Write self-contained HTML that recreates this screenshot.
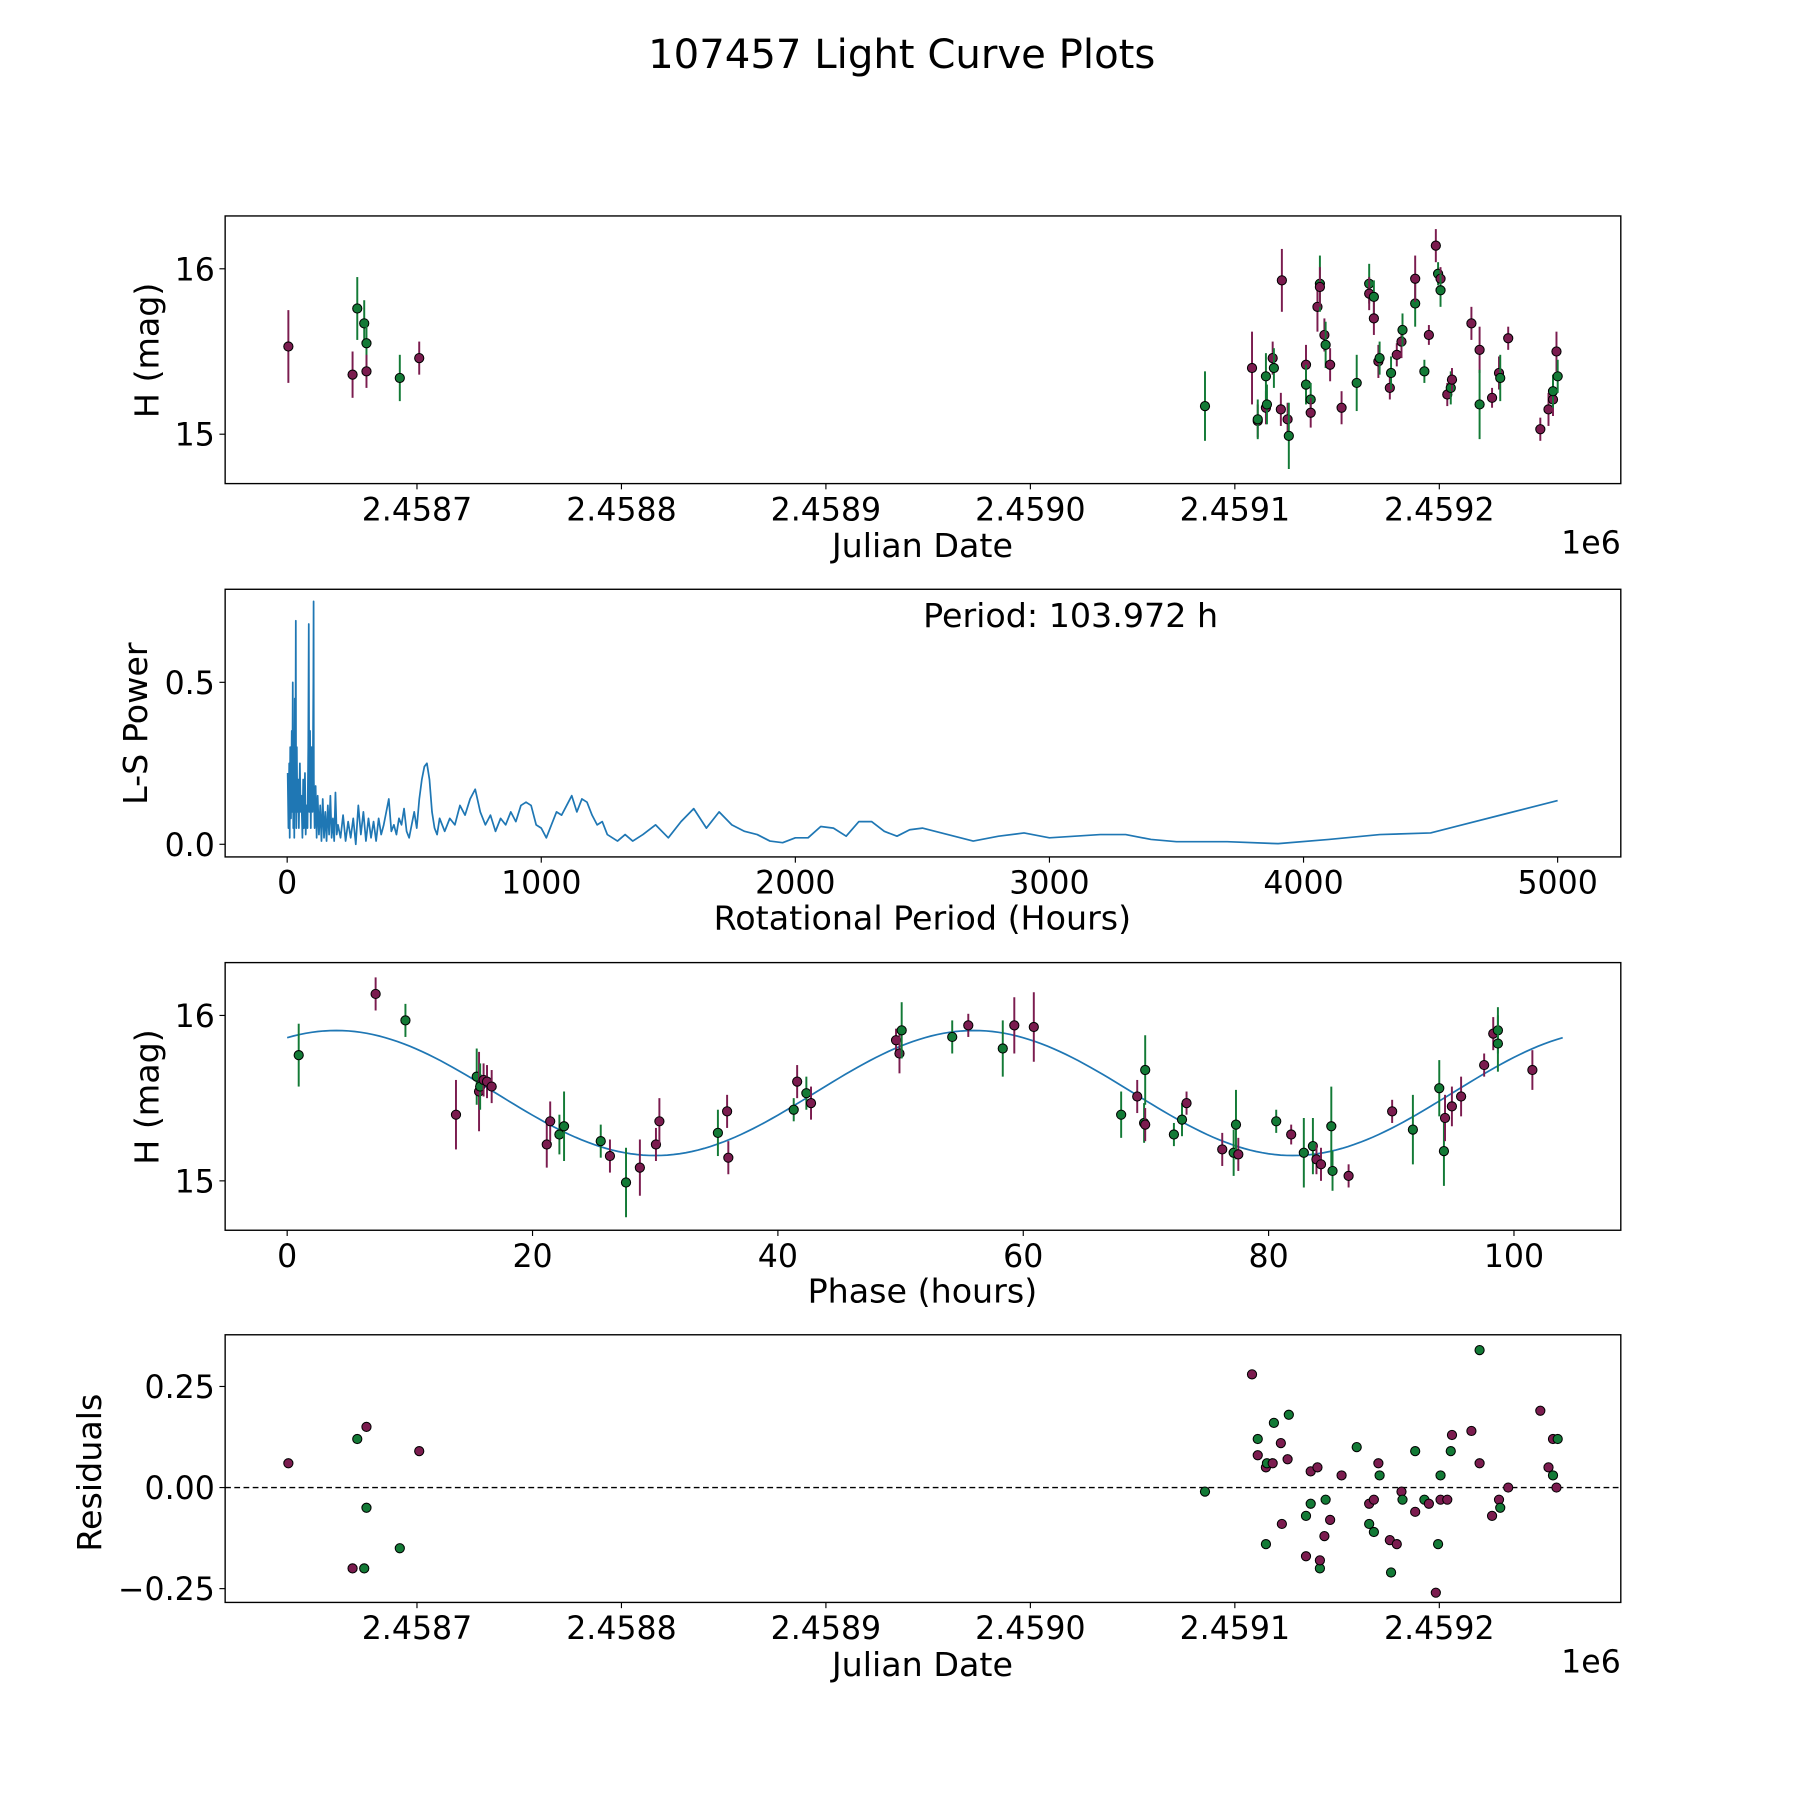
<!DOCTYPE html>
<html><head><meta charset="utf-8"><style>html,body{margin:0;padding:0;background:#fff}svg{display:block}text{font-family:"DejaVu Sans","Liberation Sans",sans-serif;fill:#000}</style></head>
<body>
<svg id="fig" width="1800" height="1800" viewBox="0 0 1567 1567" xmlns="http://www.w3.org/2000/svg">
<text x="785" y="59" font-size="35" text-anchor="middle">107457 Light Curve Plots</text>
</svg>
<script>
// ---- observation data (JD offsets from 2458700) ----
const JD_BASE = 2458700;
const obsDay = [-62.9,-31.5,-29.2,-25.8,-24.7,-24.7,-8.4,1.1,385.4,408.4,411.2,411.2,415.2,415.2,415.7,418.5,419.1,422.5,423.0,425.8,426.4,434.8,434.8,437.1,437.1,440.4,441.6,441.6,443.8,444.4,446.6,452.2,459.6,465.7,465.7,468.0,468.0,470.2,470.8,475.8,476.4,479.2,481.5,482.0,488.2,488.2,492.7,494.9,498.3,499.4,500.6,500.6,503.9,505.6,506.2,515.7,519.7,519.7,525.8,529.2,529.8,533.7,549.4,553.4,555.6,555.6,557.3,557.9];
const obsMag = [15.53,15.36,15.76,15.67,15.55,15.38,15.34,15.46,15.17,15.40,15.08,15.09,15.16,15.35,15.18,15.46,15.40,15.15,15.93,15.09,14.99,15.42,15.30,15.21,15.13,15.77,15.91,15.89,15.60,15.54,15.42,15.16,15.31,15.91,15.85,15.83,15.70,15.44,15.46,15.28,15.37,15.48,15.56,15.63,15.79,15.94,15.38,15.60,16.14,15.97,15.94,15.87,15.24,15.28,15.33,15.67,15.51,15.18,15.22,15.37,15.34,15.58,15.03,15.15,15.21,15.26,15.50,15.35];
const obsErr = [0.22,0.14,0.19,0.14,0.14,0.10,0.14,0.10,0.21,0.22,0.10,0.12,0.10,0.14,0.12,0.10,0.12,0.10,0.19,0.10,0.20,0.12,0.12,0.10,0.09,0.15,0.17,0.12,0.10,0.14,0.10,0.10,0.17,0.12,0.10,0.10,0.10,0.10,0.10,0.07,0.10,0.07,0.10,0.10,0.14,0.14,0.07,0.06,0.10,0.07,0.07,0.10,0.07,0.10,0.07,0.10,0.14,0.21,0.06,0.10,0.14,0.07,0.07,0.10,0.10,0.10,0.12,0.10];
const obsBand = ['m','m','g','g','g','m','g','m','g','m','m','g','m','g','g','m','g','m','m','m','g','m','g','g','m','m','g','m','m','g','m','m','g','g','m','g','m','m','g','m','g','m','m','g','g','m','g','m','m','g','m','g','m','g','m','m','m','g','m','m','g','m','m','m','m','g','m','g'];
const obsRes = [0.06,-0.20,0.12,-0.20,-0.05,0.15,-0.15,0.09,-0.01,0.28,0.08,0.12,0.05,-0.14,0.06,0.06,0.16,0.11,-0.09,0.07,0.18,-0.17,-0.07,-0.04,0.04,0.05,-0.20,-0.18,-0.12,-0.03,-0.08,0.03,0.10,-0.09,-0.04,-0.11,-0.03,0.06,0.03,-0.13,-0.21,-0.14,-0.01,-0.03,0.09,-0.06,-0.03,-0.04,-0.26,-0.14,-0.03,0.03,-0.03,0.09,0.13,0.14,0.06,0.34,-0.07,-0.03,-0.05,0.00,0.19,0.05,0.12,0.03,0.00,0.12];
// ---- periodogram ----
const lsPeriod = [2,5,8,10,12,15,18,20,22,24,26,28,30,32,34,35,36,38,40,43,46,50,53,56,60,63,66,70,73,76,80,83,85,87,90,93,96,100,103,104,105,108,112,116,120,125,130,135,140,145,150,155,160,165,170,175,180,185,190,195,200,210,220,230,240,250,260,270,280,290,300,310,320,330,340,350,360,370,380,390,400,410,420,430,440,450,460,470,480,490,500,510,520,530,540,550,560,570,580,590,600,620,640,660,680,700,720,740,760,780,800,820,840,860,880,900,920,940,960,980,1000,1020,1040,1060,1080,1100,1120,1140,1160,1180,1200,1220,1240,1260,1280,1300,1330,1360,1400,1450,1500,1550,1600,1650,1700,1750,1800,1850,1900,1950,2000,2050,2100,2150,2200,2250,2300,2350,2400,2450,2500,2600,2700,2800,2900,3000,3100,3200,3300,3400,3500,3700,3900,4100,4300,4500,4600,4800,5000];
const lsPower = [0.22,0.05,0.25,0.02,0.3,0.08,0.35,0.1,0.5,0.05,0.3,0.02,0.45,0.1,0.69,0.2,0.05,0.3,0.1,0.2,0.05,0.25,0.1,0.15,0.02,0.2,0.05,0.22,0.03,0.12,0.05,0.3,0.68,0.1,0.35,0.05,0.3,0.1,0.5,0.75,0.2,0.05,0.18,0.02,0.15,0.03,0.12,0.01,0.14,0.02,0.1,0.01,0.12,0.03,0.15,0.02,0.08,0.01,0.16,0.03,0.06,0.02,0.09,0.01,0.07,0.02,0.08,0.0,0.12,0.03,0.1,0.01,0.08,0.02,0.07,0.01,0.08,0.03,0.06,0.1,0.14,0.04,0.06,0.03,0.08,0.06,0.11,0.04,0.02,0.06,0.1,0.05,0.14,0.2,0.24,0.25,0.2,0.1,0.05,0.03,0.08,0.04,0.08,0.06,0.12,0.09,0.14,0.17,0.1,0.06,0.09,0.04,0.08,0.06,0.1,0.07,0.12,0.13,0.12,0.06,0.05,0.02,0.06,0.1,0.09,0.12,0.15,0.1,0.14,0.13,0.09,0.06,0.07,0.03,0.02,0.01,0.03,0.01,0.03,0.06,0.02,0.07,0.11,0.05,0.1,0.06,0.04,0.03,0.01,0.005,0.02,0.02,0.055,0.05,0.025,0.07,0.07,0.04,0.025,0.045,0.05,0.03,0.01,0.025,0.035,0.02,0.025,0.03,0.03,0.015,0.008,0.008,0.002,0.015,0.03,0.035,0.055,0.095,0.135];
const periodLabel = 'Period: 103.972 h';
// ---- phased data ----
const phHours = [0.94,7.21,9.64,13.76,15.45,15.64,15.73,16.01,16.29,16.67,21.16,21.44,22.19,22.57,25.56,26.31,27.62,28.75,30.06,30.34,35.11,35.86,35.96,41.29,41.57,42.32,42.70,49.63,49.91,50.09,54.21,55.52,58.33,59.27,60.86,67.98,69.29,69.85,69.94,69.94,72.28,72.94,73.31,76.22,77.15,77.34,77.53,80.62,81.84,82.87,83.61,83.90,84.27,85.11,85.21,86.52,90.07,91.76,93.91,94.29,94.38,94.94,95.69,97.57,98.31,98.69,98.69,101.5];
const phMag = [15.76,16.13,15.97,15.40,15.63,15.54,15.57,15.61,15.60,15.57,15.22,15.36,15.28,15.33,15.24,15.15,14.99,15.08,15.22,15.36,15.29,15.42,15.14,15.43,15.60,15.53,15.47,15.85,15.77,15.91,15.87,15.94,15.80,15.94,15.93,15.40,15.51,15.35,15.34,15.67,15.28,15.37,15.47,15.19,15.17,15.34,15.16,15.36,15.28,15.17,15.21,15.13,15.10,15.33,15.06,15.03,15.42,15.31,15.56,15.18,15.38,15.45,15.51,15.70,15.89,15.91,15.83,15.67];
const phErr = [0.19,0.10,0.10,0.21,0.17,0.24,0.14,0.10,0.10,0.10,0.14,0.12,0.12,0.21,0.10,0.10,0.21,0.17,0.10,0.14,0.14,0.10,0.10,0.07,0.10,0.10,0.10,0.07,0.12,0.17,0.10,0.07,0.17,0.17,0.21,0.14,0.10,0.12,0.10,0.21,0.07,0.10,0.07,0.10,0.14,0.21,0.10,0.07,0.06,0.21,0.17,0.09,0.10,0.24,0.12,0.07,0.07,0.21,0.17,0.21,0.14,0.12,0.12,0.07,0.10,0.14,0.17,0.12];
const phBand = ['g','m','g','m','g','m','g','m','m','m','m','m','g','g','g','m','g','m','m','m','g','m','m','g','m','g','m','m','m','g','g','m','g','m','m','g','m','g','m','g','g','g','m','m','g','g','m','g','m','g','g','m','m','g','g','m','m','g','g','g','m','m','m','m','m','g','g','m'];
const fitParams = [15.531, 0.378, 51.986, 4.0]; // mean, amplitude, period(h), peak phase
const PERIOD_H = 103.972;

const COL = {m:'#7b1c4f', g:'#137a36'};
const NS = 'http://www.w3.org/2000/svg';
const svg = document.getElementById('fig');
function mk(tag, attrs, parent){const e=document.createElementNS(NS,tag);for(const k in attrs)e.setAttribute(k,attrs[k]);(parent||svg).appendChild(e);return e;}
function lin(d0,d1,r0,r1){return v=>r0+(v-d0)*(r1-r0)/(d1-d0);}
const TFS = 27.5, LFS = 29;

function panel(name){
  const g = mk('g',{});
  
  
  return g;
}
function frame(g,x0,x1,y0,y1){
  const r = mk('rect',{x:x0,y:y0,width:x1-x0,height:y1-y0,fill:'none',stroke:'#000','stroke-width':1.2},g);
  
  
}
function xticks(g,vals,labels,sx,y1){
  vals.forEach((v,i)=>{const x=sx(v);
    mk('line',{x1:x,x2:x,y1:y1,y2:y1+5,stroke:'#000','stroke-width':1},g);
    const t=mk('text',{x:x,y:y1+32,'font-size':TFS,'text-anchor':'middle'},g);t.textContent=labels[i];
    
    });
}
function yticks(g,vals,labels,sy,x0){
  vals.forEach((v,i)=>{const y=sy(v);
    mk('line',{x1:x0-5,x2:x0,y1:y,y2:y,stroke:'#000','stroke-width':1},g);
    const t=mk('text',{x:x0-9,y:y+10,'font-size':TFS,'text-anchor':'end'},g);t.textContent=labels[i];
    
    });
}
function label(g,txt,x,y,rot,name){
  const t=mk('text',{x:x,y:y,'font-size':LFS,'text-anchor':'middle'},g);
  if(rot) t.setAttribute('transform',`rotate(-90 ${x} ${y})`);
  t.textContent=txt;
  
  
}
function errpts(g,xs,ys,es,bands,sx,sy){
  xs.forEach((v,i)=>{const x=sx(v),y=sy(ys[i]),c=COL[bands[i]];
    if(es){const l=mk('line',{x1:x,x2:x,y1:sy(ys[i]+es[i]),y2:sy(ys[i]-es[i]),stroke:c,'stroke-width':1.7},g);
      
      }
    const p=mk('circle',{cx:x,cy:y,r:4,fill:c,stroke:'#000','stroke-width':0.9},g);
    
    });
}
const jdTicks=[2458700,2458800,2458900,2459000,2459100,2459200];
const jdLabels=['2.4587','2.4588','2.4589','2.4590','2.4591','2.4592'];
const obsJD = obsDay.map(d=>JD_BASE+d);

// Panel 1
{const x0=196,x1=1411,y0=188,y1=421;const g=panel('light-curve-panel');
 const sx=lin(2458700,2458800,363,541), sy=lin(15,16,378,234);
 frame(g,x0,x1,y0,y1);xticks(g,jdTicks,jdLabels,sx,y1);yticks(g,[15,16],['15','16'],sy,x0);
 errpts(g,obsJD,obsMag,obsErr,obsBand,sx,sy);
 label(g,'Julian Date',803,485,false,'x-axis-title');label(g,'H (mag)',138,305,true,'y-axis-title');
 const t=mk('text',{x:1411,y:482,'font-size':TFS,'text-anchor':'end'},g);t.textContent='1e6';
 
 }
// Panel 2
{const x0=196,x1=1411,y0=513,y1=746;const g=panel('periodogram-panel');
 const sx=lin(0,5000,250,1356), sy=lin(0,0.5,735,594);
 frame(g,x0,x1,y0,y1);xticks(g,[0,1000,2000,3000,4000,5000],['0','1000','2000','3000','4000','5000'],sx,y1);
 yticks(g,[0,0.5],['0.0','0.5'],sy,x0);
 const pl=mk('polyline',{points:lsPeriod.map((p,i)=>sx(p)+','+sy(lsPower[i])).join(' '),fill:'none',stroke:'#1f77b4','stroke-width':1.5,'stroke-linejoin':'round'},g);
 
 
 const t=mk('text',{x:932,y:546,'font-size':LFS,'text-anchor':'middle'},g);t.textContent=periodLabel;
 
 
 label(g,'Rotational Period (Hours)',803,809,false,'x-axis-title');label(g,'L-S Power',128,630,true,'y-axis-title');}
// Panel 3
{const x0=196,x1=1411,y0=838,y1=1071;const g=panel('phased-curve-panel');
 const sx=lin(0,100,250,1318), sy=lin(15,16,1028,884);
 frame(g,x0,x1,y0,y1);xticks(g,[0,20,40,60,80,100],['0','20','40','60','80','100'],sx,y1);
 yticks(g,[15,16],['15','16'],sy,x0);
 const pts=[];for(let i=0;i<=208;i++){const t=PERIOD_H*i/208;const m=fitParams[0]+fitParams[1]*Math.cos(2*Math.PI*(t-fitParams[3])/fitParams[2]);pts.push(sx(t)+','+sy(m));}
 const fl=mk('polyline',{points:pts.join(' '),fill:'none',stroke:'#1f77b4','stroke-width':1.5},g);
 
 
 errpts(g,phHours,phMag,phErr,phBand,sx,sy);
 label(g,'Phase (hours)',803,1134,false,'x-axis-title');label(g,'H (mag)',138,955,true,'y-axis-title');}
// Panel 4
{const x0=196,x1=1411,y0=1162,y1=1395;const g=panel('residuals-panel');
 const sx=lin(2458700,2458800,363,541), sy=lin(0,0.25,1295,1207);
 frame(g,x0,x1,y0,y1);xticks(g,jdTicks,jdLabels,sx,y1);
 yticks(g,[-0.25,0,0.25],['\u22120.25','0.00','0.25'],sy,x0);
 const dl=mk('line',{x1:x0,x2:x1,y1:sy(0),y2:sy(0),stroke:'#000','stroke-width':1.2,'stroke-dasharray':'5,3'},g);
 
 
 errpts(g,obsJD,obsRes,null,obsBand,sx,sy);
 label(g,'Julian Date',803,1459,false,'x-axis-title');label(g,'Residuals',88,1282,true,'y-axis-title');
 const t=mk('text',{x:1411,y:1456,'font-size':TFS,'text-anchor':'end'},g);t.textContent='1e6';
 
 }
</script>
</body></html>
